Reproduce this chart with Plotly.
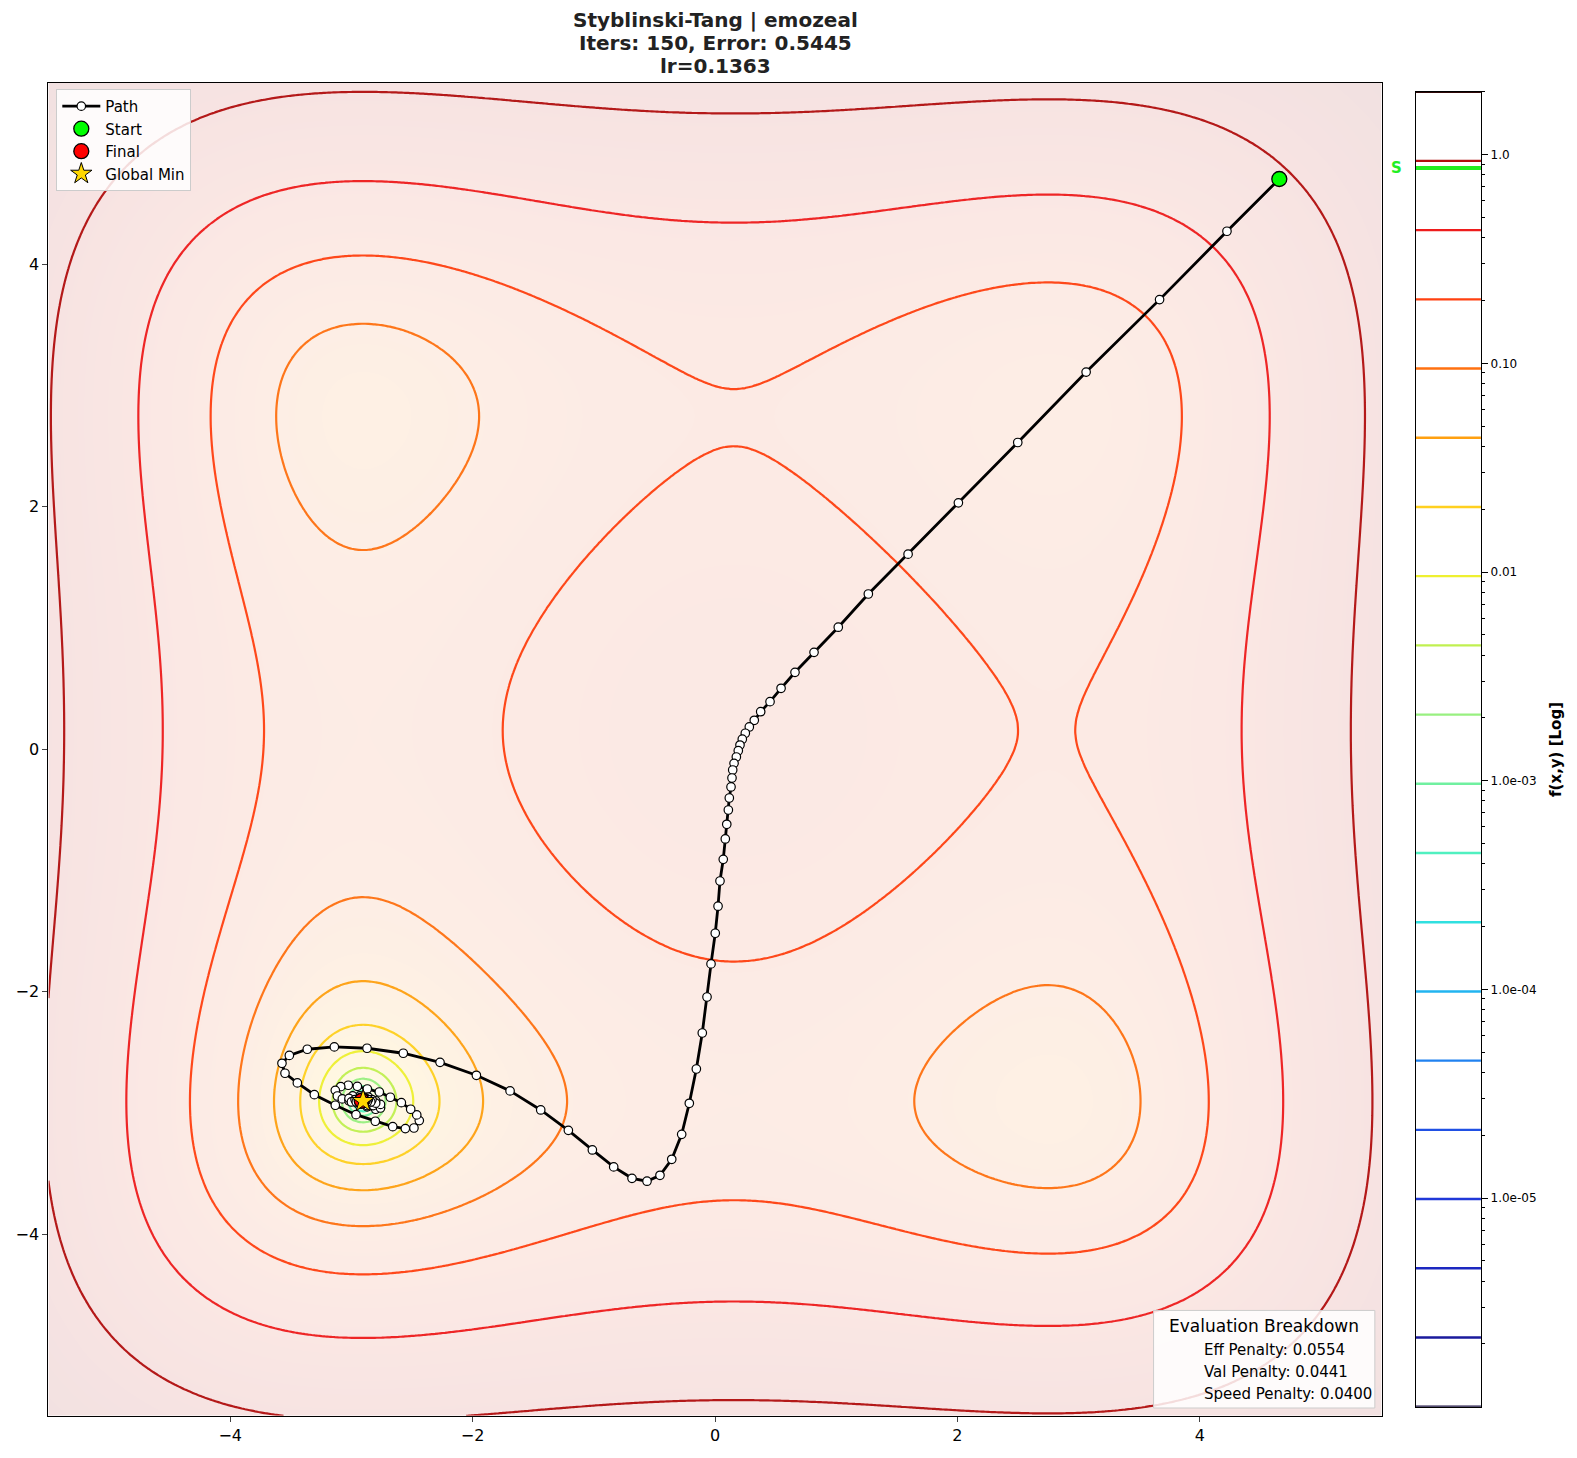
import numpy as np
import plotly.graph_objects as go

# ---------------- data ----------------
X_RANGE = [-5.5, 5.5]
Y_RANGE = [-5.5, 5.5]
NORM = 268.0            # normalisation of f - f_min
F_MIN = -78.33233       # Styblinski-Tang 2D minimum
LOG_FLOOR = -6.0
N_LEVELS = 20

path_x = [4.656, 4.224, 3.668, 3.062, 2.498, 2.008, 1.593,
          1.265, 1.017, 0.817, 0.660, 0.545, 0.454, 0.377, 0.324, 0.283, 0.250, 0.225, 0.206,
          0.192, 0.176, 0.157, 0.146, 0.140, 0.132, 0.118, 0.110, 0.097, 0.085,
          0.068, 0.041, 0.025, 0.002, -0.033, -0.066, -0.105, -0.154, -0.212,
          -0.275, -0.357, -0.454, -0.561, -0.685, -0.836, -1.012, -1.210, -1.438, -1.691,
          -1.969, -2.269, -2.572, -2.871, -3.141, -3.364, -3.512, -3.573, -3.548, -3.446,
          -3.306, -3.133, -2.962, -2.803, -2.659, -2.555, -2.484, -2.440, -2.461, -2.511,
          -2.588, -2.679, -2.770, -2.869, -2.951, -3.026, -3.088, -3.133, -3.116, -3.075,
          -3.020, -2.950, -2.870, -2.800, -2.760, -2.760, -2.800, -2.860, -2.930, -2.990,
          -3.020, -3.000, -2.940, -2.870, -2.820, -2.800, -2.830, -2.880, -2.940, -2.970,
          -2.960, -2.910, -2.860, -2.840, -2.860, -2.900, -2.930, -2.920, -2.890, -2.870,
          -2.880, -2.900, -2.910, -2.915]
path_y = [4.705, 4.274, 3.710, 3.112, 2.531, 2.033, 1.610,
          1.281, 1.007, 0.800, 0.635, 0.503, 0.393, 0.310, 0.239, 0.184, 0.132, 0.083, 0.035,
          -0.012, -0.064, -0.116, -0.171, -0.237, -0.311, -0.402, -0.501, -0.619, -0.740,
          -0.908, -1.087, -1.295, -1.518, -1.771, -2.044, -2.341, -2.638, -2.921,
          -3.177, -3.383, -3.515, -3.564, -3.540, -3.446, -3.306, -3.144, -2.976, -2.819,
          -2.690, -2.583, -2.508, -2.467, -2.456, -2.475, -2.526, -2.591, -2.673, -2.753,
          -2.850, -2.937, -3.015, -3.069, -3.114, -3.130, -3.125, -3.064, -3.017, -2.970,
          -2.916, -2.871, -2.828, -2.803, -2.781, -2.772, -2.784, -2.814, -2.861, -2.885,
          -2.900, -2.920, -2.950, -2.970, -2.960, -2.930, -2.900, -2.870, -2.860, -2.860,
          -2.880, -2.910, -2.930, -2.940, -2.940, -2.920, -2.890, -2.880, -2.880, -2.890,
          -2.910, -2.920, -2.920, -2.910, -2.890, -2.890, -2.900, -2.910, -2.910, -2.910,
          -2.900, -2.900, -2.905, -2.900]

start_x, start_y = path_x[0], path_y[0]
final_x, final_y = path_x[-1], path_y[-1]
gmin_x, gmin_y = -2.903534, -2.903534

level_colors = ["#1a1040", "#1a1a9c", "#1c28c0", "#2038d8", "#2050e4", "#2082f0",
                "#22b4f0", "#30e0e0", "#50f0c0", "#70f0a0", "#98f080", "#c0f050",
                "#eef030", "#ffd020", "#ffa010", "#ff7010", "#ff4010", "#ee1c1c",
                "#b00e0e", "#300808"]
bg_stops = [0.0, 0.45, 0.62, 0.72, 0.80, 0.88, 0.95, 1.0]
bg_colors = ["#fffde8", "#fffbe4", "#fff7e2", "#fef2e3", "#fdede5", "#fbe8e4", "#f7e3e2", "#f1e1e1"]

x_ticks = [-4, -2, 0, 2, 4]
cb_tickvals = [1e-5, 1e-4, 1e-3, 1e-2, 1e-1, 1.0]
cb_ticktext = ["1.0e-05", "1.0e-04", "1.0e-03", "0.01", "0.10", "1.0"]
title_lines = ["Styblinski-Tang | emozeal", "Iters: 150, Error: 0.5445", "lr=0.1363"]
penalty_names = ["Eff Penalty", "Val Penalty", "Speed Penalty"]
penalty_values = [0.0554, 0.0441, 0.0400]


def styblinski(x, y):
    return 0.5 * ((x ** 4 - 16 * x ** 2 + 5 * x) + (y ** 4 - 16 * y ** 2 + 5 * y))


def norm_val(x, y):
    return np.maximum((styblinski(x, y) - F_MIN) / NORM, 10 ** LOG_FLOOR)


gx = np.linspace(X_RANGE[0], X_RANGE[1], 401)
gy = np.linspace(Y_RANGE[0], Y_RANGE[1], 401)
GX, GY = np.meshgrid(gx, gy)
logz = np.log10(norm_val(GX, GY))
logmax = float(logz.max())
step = (logmax - LOG_FLOOR) / (N_LEVELS - 1)
levels = LOG_FLOOR + step * np.arange(N_LEVELS)

bx = np.linspace(X_RANGE[0], X_RANGE[1], 221)
BX, BY = np.meshgrid(bx, bx)
logz_bg = np.round(np.log10(norm_val(BX, BY)), 4)

line_cs = [[i / (N_LEVELS - 1), c] for i, c in enumerate(level_colors)]
bg_cs = [[s, c] for s, c in zip(bg_stops, bg_colors)]

fig = go.Figure()

fig.add_trace(go.Heatmap(x=bx, y=bx, z=logz_bg, colorscale=bg_cs, zmin=LOG_FLOOR, zmax=logmax,
                         zsmooth="best", showscale=False, hoverinfo="skip"))
fig.add_trace(go.Contour(x=gx, y=gy, z=np.round(logz, 4), autocontour=False,
                         contours=dict(start=LOG_FLOOR, end=logmax + 1e-6, size=step, coloring="lines"),
                         line=dict(width=2.2), colorscale=line_cs, showscale=False,
                         hoverinfo="skip", opacity=0.95, showlegend=False))

fig.add_trace(go.Scatter(x=path_x, y=path_y, mode="lines+markers", name="Path",
                         line=dict(color="black", width=2.8),
                         marker=dict(size=8.5, color="white", line=dict(color="black", width=1.2))))
fig.add_trace(go.Scatter(x=[start_x], y=[start_y], mode="markers", name="Start",
                         marker=dict(size=15, color="#00ff00", line=dict(color="black", width=1.3))))
fig.add_trace(go.Scatter(x=[final_x], y=[final_y], mode="markers", name="Final",
                         marker=dict(size=15, color="#ff0000", line=dict(color="black", width=1.3))))
fig.add_trace(go.Scatter(x=[gmin_x], y=[gmin_y], mode="markers", name="Global Min",
                         marker=dict(size=17, symbol="star", color="#ffd700", line=dict(color="black", width=1))))

# custom colorbar
for lv, c in zip(levels, level_colors):
    fig.add_trace(go.Scatter(x=[0, 1], y=[10 ** lv, 10 ** lv], mode="lines", xaxis="x2", yaxis="y2",
                             line=dict(color=c, width=2.4), showlegend=False, hoverinfo="skip"))
start_val = float(norm_val(start_x, start_y))
fig.add_trace(go.Scatter(x=[0, 1], y=[start_val, start_val], mode="lines", xaxis="x2", yaxis="y2",
                         line=dict(color="#22ee22", width=4), showlegend=False, hoverinfo="skip"))

minor_vals = [m * 10.0 ** e for e in range(-6, 1) for m in range(2, 10)
              if LOG_FLOOR <= np.log10(m * 10.0 ** e) <= logmax]

FONT = "DejaVu Sans"
fig.update_layout(
    width=1577, height=1458, margin=dict(l=0, r=0, t=0, b=0),
    paper_bgcolor="white", plot_bgcolor="white",
    font=dict(family=FONT, color="black"),
    xaxis=dict(domain=[0.0307, 0.8761], range=X_RANGE, tickvals=x_ticks, ticks="outside", ticklen=5,
               showline=True, mirror=True, linecolor="black", linewidth=1, showgrid=False,
               zeroline=False, tickfont=dict(size=16)),
    yaxis=dict(domain=[0.0289, 0.9433], range=Y_RANGE, tickvals=x_ticks, ticks="outside", ticklen=5,
               showline=True, mirror=True, linecolor="black", linewidth=1, showgrid=False,
               zeroline=False, tickfont=dict(size=16)),
    xaxis2=dict(domain=[0.8977, 0.9391], range=[0, 1], anchor="y2", showticklabels=False,
                showgrid=False, zeroline=False, showline=True, mirror=True, linecolor="black",
                linewidth=1.3, ticks=""),
    yaxis2=dict(domain=[0.0352, 0.9371], type="log", range=[LOG_FLOOR, logmax], anchor="x2",
                side="right", tickvals=cb_tickvals, ticktext=cb_ticktext, ticks="outside",
                ticklen=6, tickcolor="black", showline=True, mirror=True, linecolor="black",
                linewidth=1.3, showgrid=False, zeroline=False, tickfont=dict(size=12),
                minor=dict(tickvals=minor_vals, ticks="outside", ticklen=3, tickcolor="black",
                           showgrid=False)),
    legend=dict(x=0.0357, y=0.939, xanchor="left", yanchor="top", bgcolor="rgba(255,255,255,0.85)",
                bordercolor="#cccccc", borderwidth=1, font=dict(size=15, family=FONT),
                itemwidth=38),
    showlegend=True,
)

title_y_px = [20.1, 43.2, 65.9]
annotations = []
for t, ypx in zip(title_lines, title_y_px):
    annotations.append(dict(text="<b>%s</b>" % t, xref="paper", yref="paper", x=0.4534,
                            y=1 - ypx / 1458.0, showarrow=False, xanchor="center", yanchor="middle",
                            font=dict(size=20, family=FONT, color="#222222")))
annotations += [
    dict(text="<b>S</b>", xref="paper", yref="y2", x=0.8855, y=np.log10(start_val), showarrow=False,
         font=dict(size=15, color="#22ee22", family=FONT), xanchor="center", yanchor="middle"),
    dict(text="<b>f(x,y) [Log]</b>", xref="paper", yref="paper", x=0.987, y=0.486, textangle=-90,
         showarrow=False, font=dict(size=15, family=FONT), xanchor="center", yanchor="middle"),
    dict(text="Evaluation Breakdown", xref="paper", yref="paper", x=0.8015, y=0.0902, showarrow=False,
         font=dict(size=17, family=FONT), xanchor="center", yanchor="middle"),
]
item_y = [0.0744, 0.0591, 0.0439]
for nm, v, yy in zip(penalty_names, penalty_values, item_y):
    annotations.append(dict(text="%s: %.4f" % (nm, v), xref="paper", yref="paper", x=0.7621, y=yy,
                            showarrow=False, font=dict(size=15, family=FONT), xanchor="left",
                            yanchor="middle"))
fig.update_layout(annotations=annotations)
fig.add_shape(type="rect", xref="paper", yref="paper", x0=0.7315, x1=0.8718, y0=0.0343, y1=0.1012,
              fillcolor="rgba(255,255,255,0.85)", line=dict(color="#cccccc", width=1), layer="above")

fig.write_html("out.html")
